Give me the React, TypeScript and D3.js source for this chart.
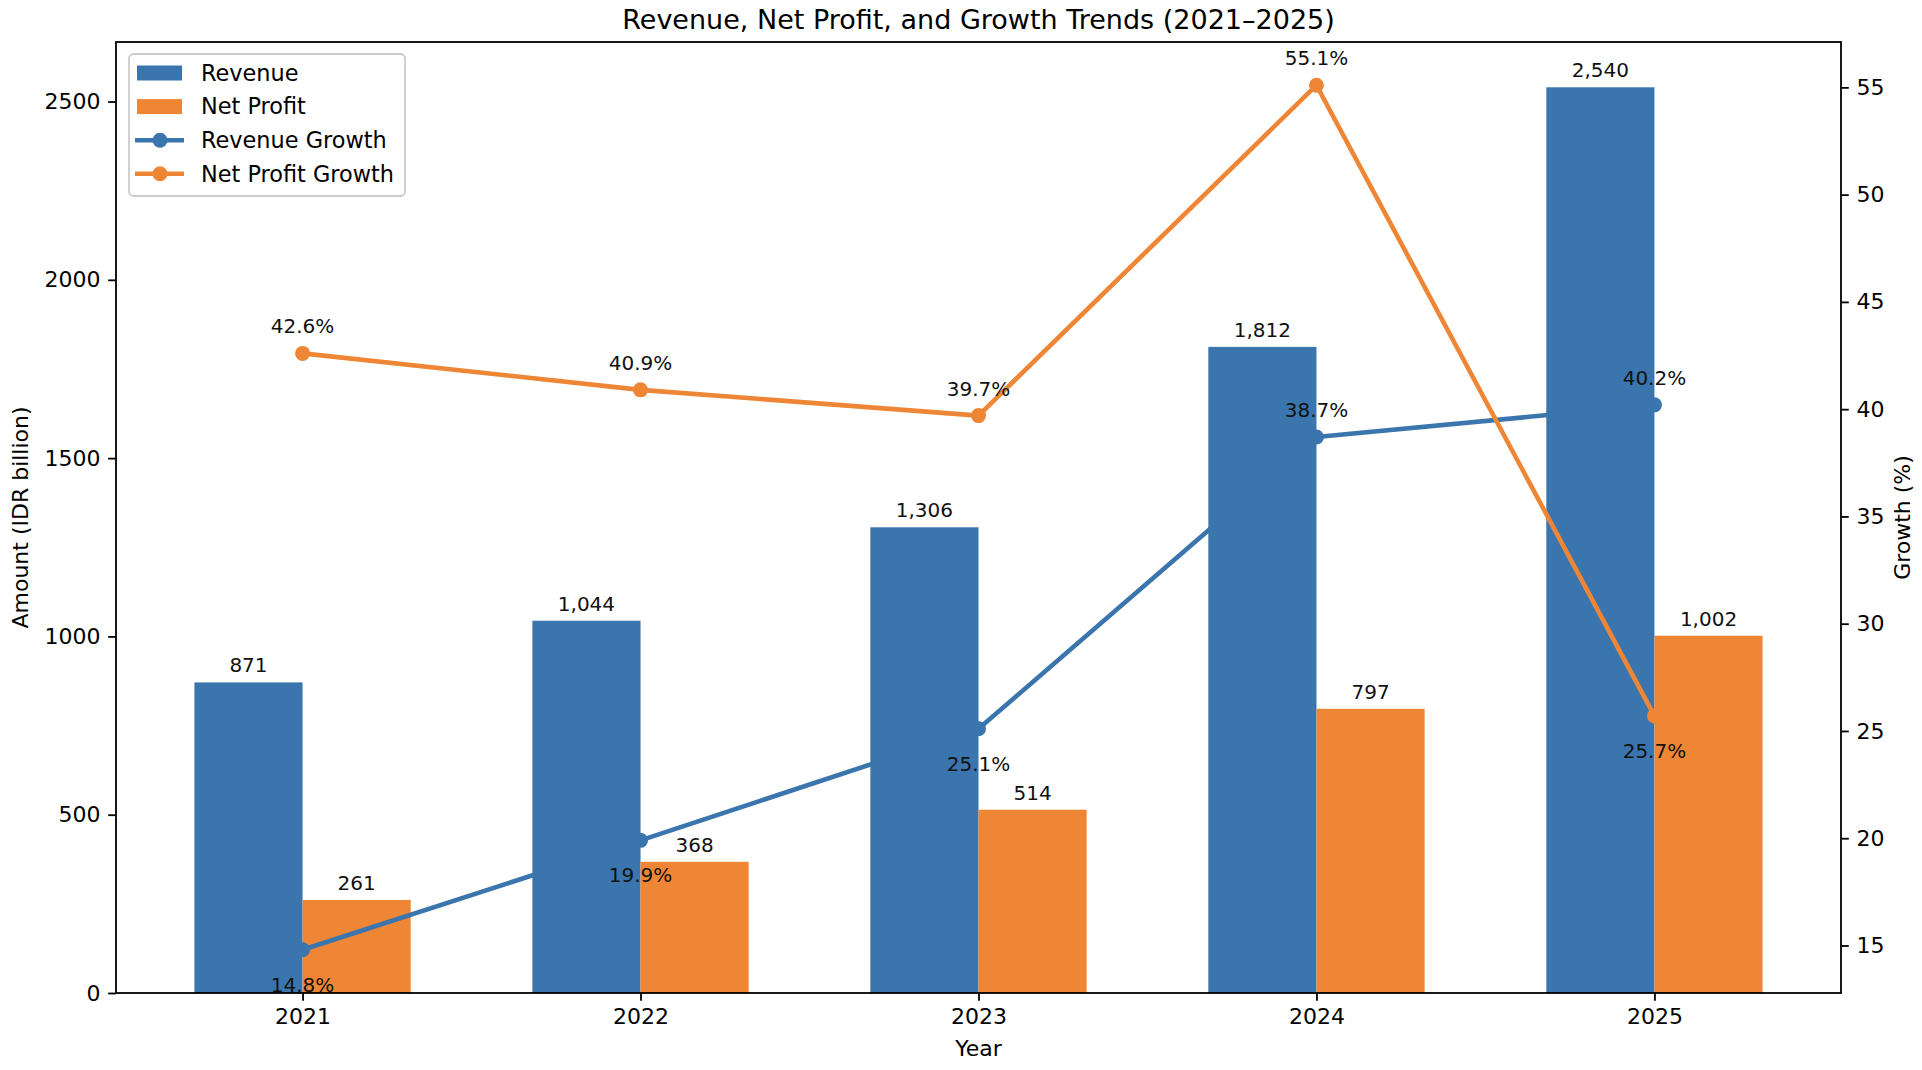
import { useEffect, useRef } from 'react';
import * as d3 from 'd3';

// Chart data
const years = ['2021', '2022', '2023', '2024', '2025'];
const revenue = [871, 1044, 1306, 1812, 2540];
const netProfit = [261, 368, 514, 797, 1002];
const revenueGrowth = [14.8, 19.9, 25.1, 38.7, 40.2];
const netProfitGrowth = [42.6, 40.9, 39.7, 55.1, 25.7];
const amountTicks = [0, 500, 1000, 1500, 2000, 2500];
const growthTicks = [15, 20, 25, 30, 35, 40, 45, 50, 55];

const BLUE = '#3a75ae';
const ORANGE = '#ee8636';
const FONT = '"DejaVu Sans", sans-serif';

const App = () => {
  const svgRef = useRef<SVGSVGElement>(null);
  const width = 1922;
  const height = 1070;

  useEffect(() => {
    if (!svgRef.current) return;
    const svg = d3.select(svgRef.current);
    svg.selectAll('*').remove();

    const left = 116;
    const right = 1841;
    const top = 42;
    const bottom = 993;
    const barW = 0.32;

    // x domain with matplotlib-like 5% margins around the bars
    const xMin = -barW;
    const xMax = years.length - 1 + barW;
    const xPad = (xMax - xMin) * 0.05;
    const x = d3.scaleLinear().domain([xMin - xPad, xMax + xPad]).range([left, right]);

    const yAmt = d3.scaleLinear()
      .domain([0, (d3.max(revenue.concat(netProfit)) as number) * 1.05])
      .range([bottom, top]);

    const allGrowth = revenueGrowth.concat(netProfitGrowth);
    const gMin = d3.min(allGrowth) as number;
    const gMax = d3.max(allGrowth) as number;
    const gPad = (gMax - gMin) * 0.05;
    const yGr = d3.scaleLinear().domain([gMin - gPad, gMax + gPad]).range([bottom, top]);

    const g = svg.append('g');

    // Bars
    g.selectAll('.rev')
      .data(revenue)
      .enter()
      .append('rect')
      .attr('x', (d, i) => x(i - barW))
      .attr('y', d => yAmt(d))
      .attr('width', x(barW) - x(0))
      .attr('height', d => yAmt(0) - yAmt(d))
      .attr('fill', BLUE);

    g.selectAll('.np')
      .data(netProfit)
      .enter()
      .append('rect')
      .attr('x', (d, i) => x(i))
      .attr('y', d => yAmt(d))
      .attr('width', x(barW) - x(0))
      .attr('height', d => yAmt(0) - yAmt(d))
      .attr('fill', ORANGE);

    // Bar value labels
    const fmt = d3.format(',');
    const barLabel = (vals: number[], offset: number) => {
      g.selectAll(null)
        .data(vals)
        .enter()
        .append('text')
        .attr('x', (d, i) => x(i + offset))
        .attr('y', d => yAmt(d) - 10)
        .attr('text-anchor', 'middle')
        .style('font-family', FONT)
        .style('font-size', '20px')
        .style('fill', '#111')
        .text(d => fmt(d));
    };
    barLabel(revenue, -barW / 2);
    barLabel(netProfit, barW / 2);

    // Growth lines
    const series = [
      { vals: revenueGrowth, color: BLUE },
      { vals: netProfitGrowth, color: ORANGE },
    ];
    const line = d3.line<number>()
      .x((d, i) => x(i))
      .y(d => yGr(d));

    series.forEach(s => {
      g.append('path')
        .datum(s.vals)
        .attr('d', line)
        .attr('fill', 'none')
        .attr('stroke', s.color)
        .attr('stroke-width', 4.6)
        .attr('stroke-linejoin', 'round');

      g.selectAll(null)
        .data(s.vals)
        .enter()
        .append('circle')
        .attr('cx', (d, i) => x(i))
        .attr('cy', d => yGr(d))
        .attr('r', 7.5)
        .attr('fill', s.color);
    });

    series.forEach(s => {
      g.selectAll(null)
        .data(s.vals)
        .enter()
        .append('text')
        .attr('x', (d, i) => x(i))
        .attr('y', d => (d >= 30 ? yGr(d) - 20 : yGr(d) + 42))
        .attr('text-anchor', 'middle')
        .style('font-family', FONT)
        .style('font-size', '20px')
        .style('fill', '#111')
        .text(d => `${d.toFixed(1)}%`);
    });

    // Frame
    g.append('rect')
      .attr('x', left)
      .attr('y', top)
      .attr('width', right - left)
      .attr('height', bottom - top)
      .attr('fill', 'none')
      .attr('stroke', '#000')
      .attr('stroke-width', 1.8);

    // Axes
    const styleAxis = (sel: d3.Selection<SVGGElement, unknown, null, undefined>) => {
      sel.select('.domain').remove();
      sel.selectAll('line').attr('stroke', '#000').attr('stroke-width', 1.8);
      sel.selectAll('text')
        .style('font-family', FONT)
        .style('font-size', '22px')
        .style('fill', '#000');
    };

    const xAxis = g.append('g')
      .attr('transform', `translate(0,${bottom})`)
      .call(
        d3.axisBottom(x)
          .tickValues(years.map((d, i) => i))
          .tickFormat((d, i) => years[i])
          .tickSize(7.8)
          .tickPadding(7.8)
      );
    styleAxis(xAxis);

    const yAxis = g.append('g')
      .attr('transform', `translate(${left},0)`)
      .call(d3.axisLeft(yAmt).tickValues(amountTicks).tickFormat(d3.format('d')).tickSize(7.8).tickPadding(7.8));
    styleAxis(yAxis);

    const y2Axis = g.append('g')
      .attr('transform', `translate(${right},0)`)
      .call(d3.axisRight(yGr).tickValues(growthTicks).tickFormat(d3.format('d')).tickSize(7.8).tickPadding(7.8));
    styleAxis(y2Axis);

    // Axis titles
    const label = (txt: string, tx: number, ty: number, rot: number, size: number) => {
      svg.append('text')
        .attr('transform', `translate(${tx},${ty}) rotate(${rot})`)
        .attr('text-anchor', 'middle')
        .attr('dominant-baseline', 'middle')
        .style('font-family', FONT)
        .style('font-size', `${size}px`)
        .style('fill', '#000')
        .text(txt);
    };
    label('Year', (left + right) / 2, 1050, 0, 22);
    label('Amount (IDR billion)', 22, (top + bottom) / 2, -90, 22);
    label('Growth (%)', 1904, (top + bottom) / 2, -90, 22);

    svg.append('text')
      .attr('x', (left + right) / 2)
      .attr('y', 29)
      .attr('text-anchor', 'middle')
      .style('font-family', FONT)
      .style('font-size', '27px')
      .style('fill', '#000')
      .text('Revenue, Net Profit, and Growth Trends (2021–2025)');

    // Legend
    const legendItems = [
      { label: 'Revenue', color: BLUE, kind: 'bar' },
      { label: 'Net Profit', color: ORANGE, kind: 'bar' },
      { label: 'Revenue Growth', color: BLUE, kind: 'line' },
      { label: 'Net Profit Growth', color: ORANGE, kind: 'line' },
    ];
    const legend = svg.append('g').attr('transform', 'translate(129,54)');
    legend.append('rect')
      .attr('width', 276)
      .attr('height', 142)
      .attr('rx', 4.4)
      .attr('fill', 'rgba(255,255,255,0.8)')
      .attr('stroke', '#cccccc')
      .attr('stroke-width', 1.8);

    const items = legend.selectAll('.legend-item')
      .data(legendItems)
      .enter()
      .append('g')
      .attr('transform', (d, i) => `translate(0, ${19 + i * 33.6})`);

    items.filter(d => d.kind === 'bar')
      .append('rect')
      .attr('x', 8)
      .attr('y', -7.5)
      .attr('width', 45)
      .attr('height', 15)
      .attr('fill', d => d.color);

    items.filter(d => d.kind === 'line')
      .append('line')
      .attr('x1', 6)
      .attr('x2', 55)
      .attr('stroke', d => d.color)
      .attr('stroke-width', 4.6);

    items.filter(d => d.kind === 'line')
      .append('circle')
      .attr('cx', 31)
      .attr('r', 7.5)
      .attr('fill', d => d.color);

    items.append('text')
      .attr('x', 72)
      .attr('dy', '0.35em')
      .style('font-family', FONT)
      .style('font-size', '22.4px')
      .style('fill', '#000')
      .text(d => d.label);
  }, []);

  return (
    <svg
      ref={svgRef}
      width={width}
      height={height}
      style={{ position: 'absolute', left: 0, top: 0, background: '#fff' }}
    />
  );
};

export default App;
